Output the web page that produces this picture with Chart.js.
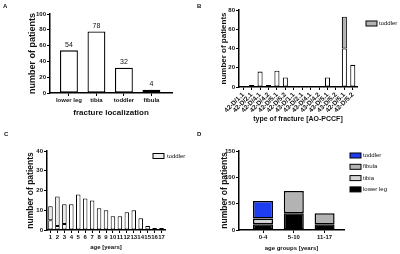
<!DOCTYPE html>
<html>
<head>
<meta charset="utf-8">
<script src="https://cdn.jsdelivr.net/npm/chart.js@4.4.1/dist/chart.umd.min.js"></script>
<style>
  html, body { margin: 0; padding: 0; background: #fff; }
  #fig { position: relative; width: 400px; height: 254px; overflow: hidden; }
  .panel { position: absolute; width: 200px; height: 127px; }
  .panel canvas { display: block; }
  .tag { position: absolute; font: bold 6px "Liberation Sans", Arial, sans-serif; color: #111; }
</style>
</head>
<body>
<div id="fig">
  <div class="panel" style="left:0;top:0"><canvas id="chartA" width="200" height="127"></canvas></div>
  <div class="panel" style="left:200px;top:0"><canvas id="chartB" width="200" height="127"></canvas></div>
  <div class="panel" style="left:0;top:127px"><canvas id="chartC" width="200" height="127"></canvas></div>
  <div class="panel" style="left:200px;top:127px"><canvas id="chartD" width="200" height="127"></canvas></div>
  <div class="tag" style="left:3px;top:3px">A</div>
  <div class="tag" style="left:197px;top:3px">B</div>
  <div class="tag" style="left:4px;top:131px">C</div>
  <div class="tag" style="left:197px;top:131px">D</div>
</div>
<script>
// A - fracture localization
const locLabels = ['lower leg', 'tibia', 'toddler', 'fibula'];
const locCounts = [54, 78, 32, 4];

// B - AO-PCCF type
const aoLabels = ['42-D/1.1', '42-D/2.1', '42-D/4.1', '42-D/4.2', '42-D/5.1', '42-D/5.2', '43-D/1.1',
  '43-D/2.1', '43-D/4.1', '43-D/4.2', '43-D/5.1', '43-D/5.2', '42-D/5.1', '42-D/5.2'];
const aoOther = [0, 2, 16, 2, 17, 10, 1, 0, 0, 0, 10, 1, 40, 23];
const aoToddler = [0, 0, 0, 0, 0, 0, 0, 0, 0, 0, 0, 0, 33, 0];

// C - age
const ageLabels = ['1', '2', '3', '4', '5', '6', '7', '8', '9', '10', '11', '12', '13', '14', '15', '16', '17'];
const ageOther = [5, 2, 3, 13, 18, 16, 15, 11, 10, 7, 7, 9, 10, 6, 2, 1, 1];
const ageToddler = [7, 15, 10, 0, 0, 0, 0, 0, 0, 0, 0, 0, 0, 0, 0, 0, 0];

// D - age groups
const groupLabels = ['0-4', '5-10', '11-17'];
const grpLowerLeg = [11, 32, 11];
const grpTibia = [11, 0, 0];
const grpFibula = [0, 42, 21];
const grpToddler = [33, 0, 0];

const FONT = '"Liberation Sans", Arial, sans-serif';
const INK = '#111';

// numbers above the bars (panel A)
const barValues = {
  id: 'barValues',
  afterDatasetsDraw(chart) {
    const ctx = chart.ctx;
    const ds = chart.data.datasets[0];
    ctx.save();
    ctx.font = '7px ' + FONT;
    ctx.fillStyle = INK;
    ctx.textAlign = 'center';
    ctx.textBaseline = 'bottom';
    chart.getDatasetMeta(0).data.forEach((bar, i) => {
      ctx.fillText(ds.data[i], bar.x, bar.y - 2);
    });
    ctx.restore();
  }
};

// small Prism-like legend on the right
const sideLegend = {
  id: 'sideLegend',
  afterDraw(chart, args, opts) {
    if (!opts.items) return;
    const ctx = chart.ctx;
    ctx.save();
    ctx.font = '6px ' + FONT;
    ctx.textBaseline = 'middle';
    opts.items.forEach((idx, row) => {
      const ds = chart.data.datasets[idx];
      const y = opts.y + row * opts.gap;
      ctx.fillStyle = ds.backgroundColor;
      ctx.fillRect(opts.x, y - 2.5, 11, 5);
      ctx.strokeStyle = '#000';
      ctx.lineWidth = 1;
      ctx.strokeRect(opts.x, y - 2.5, 11, 5);
      ctx.fillStyle = INK;
      ctx.fillText(ds.label, opts.x + opts.textGap, y);
    });
    ctx.restore();
  }
};

function axes(o) {
  const grid = { display: true, drawOnChartArea: false, offset: false, color: '#000', lineWidth: 1, tickLength: 3 };
  const border = { display: true, color: '#000', width: 1.5 };
  const x = {
    stacked: true,
    grid: grid,
    border: border,
    ticks: { color: INK, font: { family: FONT, size: o.xTick, weight: 'bold' }, padding: 1,
      autoSkip: false, maxRotation: o.rot, minRotation: o.rot },
    title: { display: true, text: o.xTitle, color: INK, padding: 0,
      font: { family: FONT, size: o.xTitleSize, weight: 'bold' } },
    afterFit(s) { s.height = o.xH; }
  };
  if (o.names) {
    // numeric index axis so the gap before the first bar can follow the original
    x.type = 'linear';
    x.offset = false;
    x.min = o.xMin;
    x.max = o.xMax;
    x.ticks.callback = v => o.names[v];
    x.afterBuildTicks = s => { s.ticks = o.names.map((_, i) => ({ value: i })); };
  }
  return {
    x: x,
    y: {
      stacked: true,
      min: 0,
      max: o.yMax,
      grid: grid,
      border: border,
      ticks: { stepSize: o.yStep, color: INK, padding: 1, font: { family: FONT, size: 6, weight: 'bold' } },
      title: { display: true, text: 'number of patients', color: INK, padding: 0,
        font: { family: FONT, size: o.yTitleSize, weight: 'bold' } },
      afterFit(s) { s.width = o.yW; }
    }
  };
}

function bar(label, data, color, bp, bw) {
  return { label: label, data: data, backgroundColor: color, borderColor: '#000', borderWidth: bw,
    borderSkipped: false, barPercentage: bp, categoryPercentage: 1 };
}

const common = { responsive: false, animation: false, plugins: { legend: { display: false }, tooltip: { enabled: false } } };

new Chart(document.getElementById('chartA'), {
  type: 'bar',
  data: { labels: locLabels.map((_, i) => i), datasets: [bar('patients', locCounts, '#fff', 0.65, 1.3)] },
  options: Object.assign({}, common, {
    layout: { padding: { left: 27, right: 28, top: 14, bottom: 9 } },
    scales: axes({ xTitle: 'fracture localization', xTitleSize: 8, xTick: 6, rot: 0, xH: 25,
      names: locLabels, xMin: -0.69, xMax: 3.75,
      yMax: 100, yStep: 20, yTitleSize: 9, yW: 23 })
  }),
  plugins: [barValues]
});

new Chart(document.getElementById('chartB'), {
  type: 'bar',
  data: { labels: aoLabels, datasets: [
    bar('other', aoOther, '#fff', 0.6, 1.1),
    bar('toddler', aoToddler, '#b3b3b3', 0.6, 1.1)
  ] },
  options: Object.assign({}, common, {
    layout: { padding: { left: 19, right: 43, top: 10, bottom: 4 } },
    plugins: Object.assign({}, common.plugins, { sideLegend: { items: [1], x: 166, y: 23.5, gap: 11, textGap: 13 } }),
    scales: axes({ xTitle: 'type of fracture [AO-PCCF]', xTitleSize: 7, xTick: 6.5, rot: 45, xH: 36,
      yMax: 80, yStep: 20, yTitleSize: 8, yW: 20 })
  }),
  plugins: [sideLegend]
});

new Chart(document.getElementById('chartC'), {
  type: 'bar',
  data: { labels: ageLabels, datasets: [
    bar('other', ageOther, '#fff', 0.65, 1),
    bar('toddler', ageToddler, '#ececec', 0.65, 1)
  ] },
  options: Object.assign({}, common, {
    layout: { padding: { left: 26, right: 35, top: 24, bottom: 3 } },
    plugins: Object.assign({}, common.plugins, { sideLegend: { items: [1], x: 153, y: 29, gap: 11, textGap: 14 } }),
    scales: axes({ xTitle: 'age [years]', xTitleSize: 6, xTick: 6, rot: 0, xH: 21,
      yMax: 40, yStep: 10, yTitleSize: 8.5, yW: 21 })
  }),
  plugins: [sideLegend]
});

new Chart(document.getElementById('chartD'), {
  type: 'bar',
  data: { labels: groupLabels.map((_, i) => i), datasets: [
    bar('lower leg', grpLowerLeg, '#000', 0.65, 1.5),
    bar('tibia', grpTibia, '#d6d6d6', 0.65, 1.5),
    bar('fibula', grpFibula, '#b3b3b3', 0.65, 1.5),
    bar('toddler', grpToddler, '#1e3cf0', 0.65, 1.5)
  ] },
  options: Object.assign({}, common, {
    layout: { padding: { left: 20, right: 56, top: 24, bottom: 2 } },
    plugins: Object.assign({}, common.plugins, { sideLegend: { items: [3, 2, 1, 0], x: 150, y: 28.5, gap: 11.3, textGap: 13 } }),
    scales: axes({ xTitle: 'age groups [years]', xTitleSize: 6, xTick: 6, rot: 0, xH: 22,
      names: groupLabels, xMin: -0.78, xMax: 2.63,
      yMax: 150, yStep: 50, yTitleSize: 8.5, yW: 19 })
  }),
  plugins: [sideLegend]
});
</script>
</body>
</html>
